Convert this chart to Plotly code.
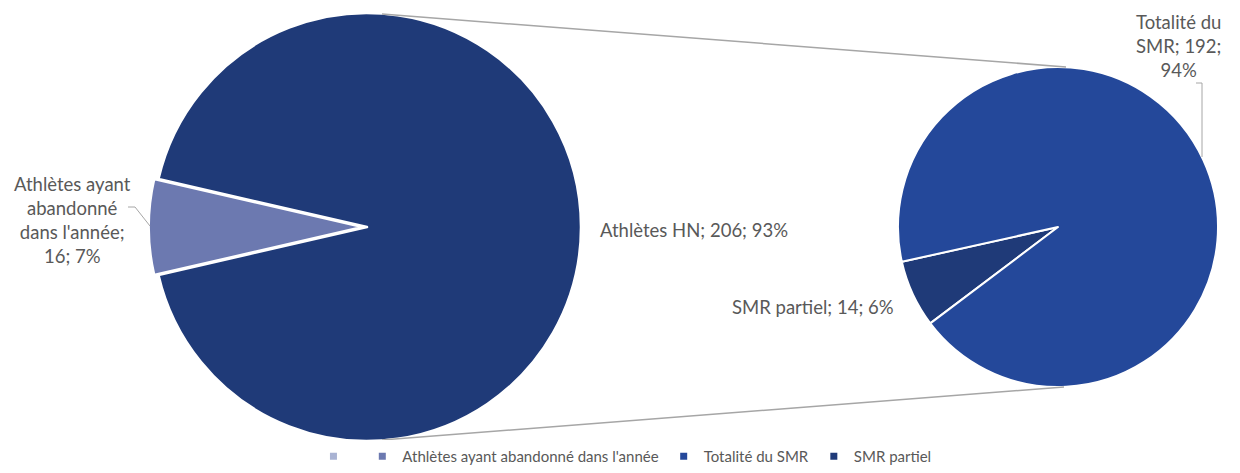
import plotly.graph_objects as go

# Main pie: athletes split between dropouts and high-level athletes
main_labels = ["Athlètes ayant abandonné dans l'année", "Athlètes HN"]
main_values = [16, 206]
main_pct_text = ["7%", "93%"]

# Secondary pie: breakdown of the "Athlètes HN" slice
sub_labels = ["SMR partiel", "Totalité du SMR"]
sub_values = [14, 192]
sub_pct_text = ["6%", "94%"]

# Legend entries (first one has no label)
legend_labels = ["", "Athlètes ayant abandonné dans l'année", "Totalité du SMR", "SMR partiel"]

W, H = 1240, 473
C_DARK = "#1f3a78"
C_MID = "#24489a"
C_LAV = "#6c79b0"
C_LIGHT = "#a9b3d3"
TEXT = "#595959"
FONT = "Lato"

# pixel geometry of the two pies
L_CX, L_CY, L_R = 367, 227, 214
R_CX, R_CY, R_R = 1058, 227, 160
PULL = 0.02


def px(x):
    return x / W


def py(y):
    return 1 - y / H


def domain(cx, cy, r, pull=0.0):
    half = r * (1 + pull)
    return dict(x=[px(cx - half), px(cx + half)], y=[py(cy + half), py(cy - half)])


fig = go.Figure()

half_main = 360 * main_values[0] / sum(main_values) / 2
fig.add_trace(go.Pie(
    labels=main_labels, values=main_values, sort=False, direction="clockwise",
    rotation=270 - half_main, pull=[PULL, 0],
    marker=dict(colors=[C_LAV, C_DARK], line=dict(color="white", width=2.5)),
    textinfo="none", hoverinfo="label+value+percent", showlegend=False,
    domain=domain(L_CX, L_CY, L_R, PULL),
))

half_sub = 360 * sub_values[0] / sum(sub_values) / 2
fig.add_trace(go.Pie(
    labels=sub_labels, values=sub_values, sort=False, direction="clockwise",
    rotation=245.2 - half_sub,
    marker=dict(colors=[C_DARK, C_MID], line=dict(color="white", width=2)),
    textinfo="none", hoverinfo="label+value+percent", showlegend=False,
    domain=domain(R_CX, R_CY, R_R),
))

# legend entries as square markers
for name, col in zip(legend_labels, [C_LIGHT, C_LAV, C_MID, C_DARK]):
    fig.add_trace(go.Scatter(
        x=[None], y=[None], mode="markers", name=name if name else " ",
        marker=dict(symbol="square", size=7, color=col),
        xaxis="x", yaxis="y", showlegend=True,
    ))

# connector lines between the two pies
line_style = dict(color="#a6a6a6", width=1.5)
fig.add_shape(type="line", xref="paper", yref="paper",
              x0=px(382), y0=py(14), x1=px(1066), y1=py(67), line=line_style)
fig.add_shape(type="line", xref="paper", yref="paper",
              x0=px(382), y0=py(440), x1=px(1064), y1=py(387), line=line_style)

# leader lines for the outer labels
fig.add_shape(type="path", xref="paper", yref="paper",
              path=f"M {px(128)},{py(207)} L {px(135)},{py(207)} L {px(150)},{py(226)}",
              line=dict(color="#a6a6a6", width=1))
fig.add_shape(type="path", xref="paper", yref="paper",
              path=f"M {px(1196)},{py(83)} L {px(1202)},{py(83)} L {px(1202)},{py(157)}",
              line=dict(color="#a6a6a6", width=1))

lab_font = dict(family=FONT, size=18.5, color=TEXT)


def add_label(x, y, text):
    fig.add_annotation(x=px(x), y=py(y), xref="paper", yref="paper", text=text,
                       showarrow=False, font=lab_font, align="center",
                       xanchor="center", yanchor="middle")


add_label(72, 220, "Athlètes ayant<br>abandonné<br>dans l'année;<br>"
          f"{main_values[0]}; {main_pct_text[0]}")
add_label(694, 230, f"{main_labels[1]}; {main_values[1]}; {main_pct_text[1]}")
add_label(813, 307, f"{sub_labels[0]}; {sub_values[0]}; {sub_pct_text[0]}")
add_label(1178, 46, "Totalité du<br>SMR; " f"{sub_values[1]};<br>{sub_pct_text[1]}")

fig.update_layout(
    width=W, height=H,
    margin=dict(l=0, r=0, t=0, b=0),
    paper_bgcolor="white", plot_bgcolor="white",
    xaxis=dict(visible=False, domain=[0, 0.01]),
    yaxis=dict(visible=False, domain=[0, 0.01]),
    legend=dict(orientation="h", x=0.504, xanchor="center", y=0.0, yanchor="bottom",
                font=dict(family=FONT, size=15, color=TEXT),
                itemwidth=30, tracegroupgap=0),
    showlegend=True,
)

fig.write_html("out.html")
